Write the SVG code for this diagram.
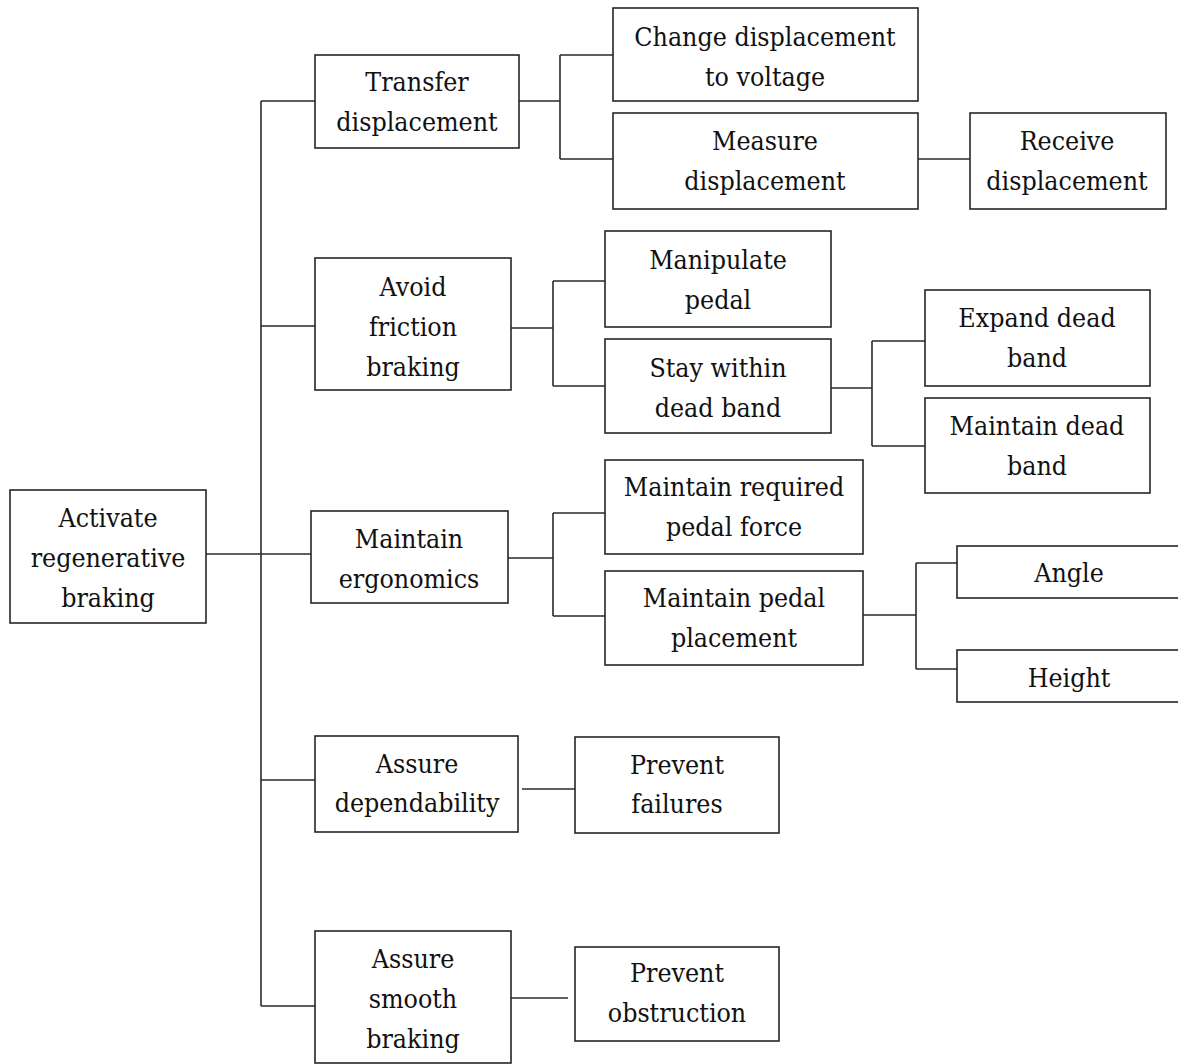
<svg xmlns="http://www.w3.org/2000/svg" width="1178" height="1064" viewBox="0 0 1178 1064">
<style>
.box{fill:#fff;stroke:#262626;stroke-width:1.6}
.t{font-family:'DejaVu Serif Condensed','DejaVu Serif',serif;font-stretch:condensed;font-size:26.5px;fill:#111;text-anchor:middle}
.c{fill:none;stroke:#2a2a2a;stroke-width:1.6}
</style>
<rect width="1178" height="1064" fill="#fff"/>
<g id="connectors">
<path class="c" d="M206 554 H316"/>
<path class="c" d="M261 101 V1006"/>
<path class="c" d="M261 101 H315 M261 326 H315 M261 780 H315 M261 1006 H315"/>
<path class="c" d="M519 101 H560 M560 55 V159 M560 55 H613 M560 159 H613"/>
<path class="c" d="M918 159 H970"/>
<path class="c" d="M511 328 H553 M553 281 V386 M553 281 H605 M553 386 H605"/>
<path class="c" d="M831 388 H872 M872 341 V446 M872 341 H925 M872 446 H925"/>
<path class="c" d="M508 558 H553 M553 513 V616 M553 513 H605 M553 616 H605"/>
<path class="c" d="M863 615 H916 M916 563 V669 M916 563 H957 M916 669 H957"/>
<path class="c" d="M522 789 H575"/>
<path class="c" d="M511 998 H568"/>
</g>
<g id="n-root"><rect class="box" x="10" y="490" width="196" height="133"/>
<text class="t" x="108" y="527">Activate</text><text class="t" x="108" y="567">regenerative</text><text class="t" x="108" y="607">braking</text></g>
<g id="n-transfer"><rect class="box" x="315" y="55" width="204" height="93"/>
<text class="t" x="417" y="91">Transfer</text><text class="t" x="417" y="131">displacement</text></g>
<g id="n-change"><rect class="box" x="613" y="8" width="305" height="93"/>
<text class="t" x="765" y="46">Change displacement</text><text class="t" x="765" y="86">to voltage</text></g>
<g id="n-measure"><rect class="box" x="613" y="113" width="305" height="96"/>
<text class="t" x="765" y="150">Measure</text><text class="t" x="765" y="190">displacement</text></g>
<g id="n-receive"><rect class="box" x="970" y="113" width="196" height="96"/>
<text class="t" x="1067" y="150">Receive</text><text class="t" x="1067" y="190">displacement</text></g>
<g id="n-avoid"><rect class="box" x="315" y="258" width="196" height="132"/>
<text class="t" x="413" y="296">Avoid</text><text class="t" x="413" y="336">friction</text><text class="t" x="413" y="376">braking</text></g>
<g id="n-manipulate"><rect class="box" x="605" y="231" width="226" height="96"/>
<text class="t" x="718" y="269">Manipulate</text><text class="t" x="718" y="309">pedal</text></g>
<g id="n-stay"><rect class="box" x="605" y="339" width="226" height="94"/>
<text class="t" x="718" y="377">Stay within</text><text class="t" x="718" y="417">dead band</text></g>
<g id="n-expand"><rect class="box" x="925" y="290" width="225" height="96"/>
<text class="t" x="1037" y="327">Expand dead</text><text class="t" x="1037" y="367">band</text></g>
<g id="n-maintaindb"><rect class="box" x="925" y="398" width="225" height="95"/>
<text class="t" x="1037" y="435">Maintain dead</text><text class="t" x="1037" y="475">band</text></g>
<g id="n-ergonomics"><rect class="box" x="311" y="511" width="197" height="92"/>
<text class="t" x="409" y="548">Maintain</text><text class="t" x="409" y="588">ergonomics</text></g>
<g id="n-force"><rect class="box" x="605" y="460" width="258" height="94"/>
<text class="t" x="734" y="496">Maintain required</text><text class="t" x="734" y="536">pedal force</text></g>
<g id="n-placement"><rect class="box" x="605" y="571" width="258" height="94"/>
<text class="t" x="734" y="607">Maintain pedal</text><text class="t" x="734" y="647">placement</text></g>
<g id="n-angle"><rect class="box" x="957" y="546" width="230" height="52"/>
<text class="t" x="1069" y="582">Angle</text></g>
<g id="n-height"><rect class="box" x="957" y="650" width="230" height="52"/>
<text class="t" x="1069" y="687">Height</text></g>
<g id="n-dependability"><rect class="box" x="315" y="736" width="203" height="96"/>
<text class="t" x="417" y="773">Assure</text><text class="t" x="417" y="812">dependability</text></g>
<g id="n-failures"><rect class="box" x="575" y="737" width="204" height="96"/>
<text class="t" x="677" y="774">Prevent</text><text class="t" x="677" y="813">failures</text></g>
<g id="n-smooth"><rect class="box" x="315" y="931" width="196" height="132"/>
<text class="t" x="413" y="968">Assure</text><text class="t" x="413" y="1008">smooth</text><text class="t" x="413" y="1048">braking</text></g>
<g id="n-obstruction"><rect class="box" x="575" y="947" width="204" height="94"/>
<text class="t" x="677" y="982">Prevent</text><text class="t" x="677" y="1022">obstruction</text></g>
</svg>
